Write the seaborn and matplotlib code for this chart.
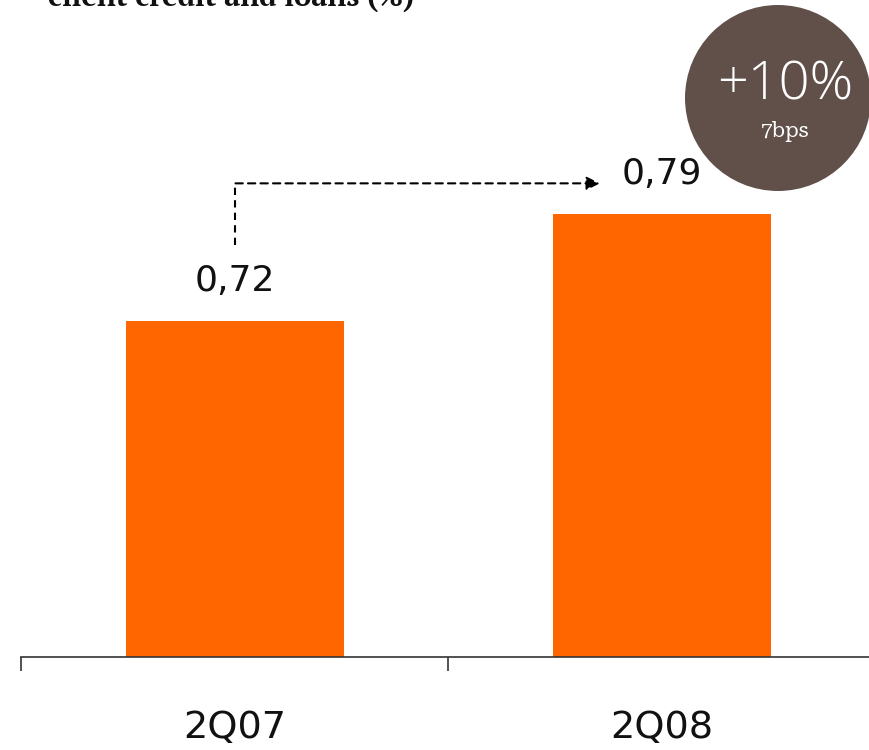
import matplotlib
matplotlib.use("Agg")
import matplotlib.pyplot as plt
from matplotlib.patches import Ellipse
import seaborn as sns
import pandas as pd

quarters = ["2Q07", "2Q08"]
risk_costs = [0.72, 0.79]
value_labels = ["0,72", "0,79"]
change_pct = "+10%"
change_bps = "7bps"
title_line = "client credit and loans (%)"

BAR_COLOR = "#FF6600"
BUBBLE_COLOR = "#615049"

sns.set_theme(style="white")
plt.rcParams["font.family"] = ["DejaVu Sans"]

W, H = 870, 750
fig = plt.figure(figsize=(W / 100, H / 100), dpi=100)
ax = fig.add_axes([21 / W, (H - 657) / H, (W - 21) / W, 657 / H])

df = pd.DataFrame({"quarter": quarters, "value": risk_costs})
sns.barplot(data=df, x="quarter", y="value", color=BAR_COLOR, saturation=1,
            width=0.51, ax=ax, edgecolor="none")

ax.set_ylim(0.5, 0.93)
ax.set_xlim(-0.5, 1.487)
for s in ["left", "right", "top"]:
    ax.spines[s].set_visible(False)
ax.spines["bottom"].set_color("#333333")
ax.spines["bottom"].set_linewidth(1.2)
ax.set_yticks([])
ax.set_xlabel("")
ax.set_ylabel("")

# separators between categories as tick marks, category names as minor labels
ax.set_xticks([-0.5, 0.5])
ax.set_xticklabels(["", ""])
ax.tick_params(axis="x", which="major", direction="out", length=10, width=1.2,
               color="#333333", bottom=True)
ax.set_xticks([0, 1], minor=True)
ax.set_xticklabels(quarters, minor=True, fontsize=27.5, color="#111111",
                   fontfamily=["DejaVu Sans"])
ax.tick_params(axis="x", which="minor", length=0, pad=38)

for i, (v, lab) in enumerate(zip(risk_costs, value_labels)):
    ax.annotate(lab, (i, v), xytext=(0, 28.5), textcoords="offset points",
                ha="center", va="center", fontsize=26, color="#111111",
                fontfamily=["DejaVu Sans"])

# dashed change arrow from first to second quarter
ax.plot([0.002, 0.002], [0.7695, 0.81], ls=(0, (3.5, 2.5)), color="black", lw=1.5,
        clip_on=False)
ax.annotate("", xy=(0.855, 0.81), xytext=(0.002, 0.81),
            arrowprops=dict(arrowstyle="-|>", ls=(0, (3.5, 2.5)), color="black",
                            lw=1.5, mutation_scale=20, shrinkA=0, shrinkB=0))

# change bubble
bubble = Ellipse((778 / W, 1 - 98 / H), width=186 / W, height=186 / H,
                 transform=fig.transFigure, facecolor=BUBBLE_COLOR,
                 edgecolor="none", zorder=5)
fig.patches.append(bubble)
fig.text(785 / W, 1 - 86 / H, change_pct, ha="center", va="center",
         color="white", fontsize=39, fontweight="light", zorder=6,
         fontfamily=["Open Sans", "DejaVu Sans"])
fig.text(785 / W, 1 - 132 / H, change_bps, ha="center", va="center",
         color="white", fontsize=15, zorder=6,
         fontfamily=["Roboto Serif", "DejaVu Serif"])

fig.text(48 / W, 1 - 6 / H, title_line, ha="left", va="baseline",
         fontsize=21, fontweight="bold",
         fontfamily=["PT Serif", "DejaVu Serif"], color="#111111")

fig.savefig("out.png", dpi=100)
